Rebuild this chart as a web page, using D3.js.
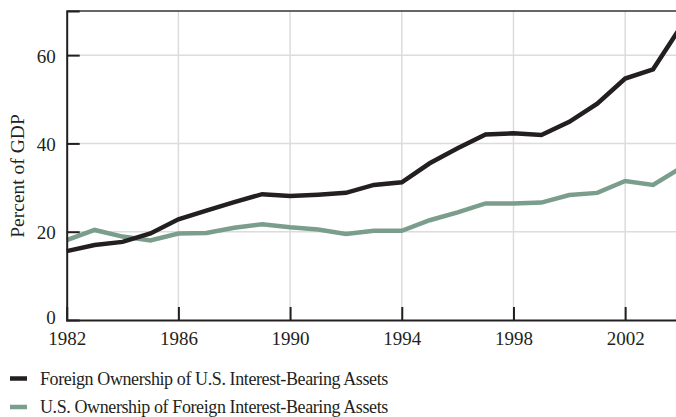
<!DOCTYPE html>
<html>
<head>
<meta charset="utf-8">
<script src="https://cdn.jsdelivr.net/npm/d3@7"></script>
<style>
  body { margin: 0; background: #fff; }
  svg text { font-family: "Liberation Serif", "DejaVu Serif", serif; fill: #231f20; }
</style>
</head>
<body>
<svg width="676" height="417"></svg>
<script>
const years = d3.range(1982, 2005);
const foreignOwnUS = [15.6, 17.0, 17.7, 19.6, 22.8, 24.8, 26.7, 28.5, 28.1, 28.4, 28.8,
  30.6, 31.2, 35.5, 38.9, 42.0, 42.3, 41.9, 44.9, 49.0, 54.7, 56.8, 66.5];
const usOwnForeign = [18.1, 20.4, 18.9, 18.0, 19.6, 19.7, 20.9, 21.7, 21.0, 20.5, 19.5,
  20.2, 20.2, 22.6, 24.4, 26.4, 26.4, 26.6, 28.3, 28.8, 31.5, 30.6, 34.5];
const xTickValues = [1982, 1986, 1990, 1994, 1998, 2002];
const yTickValues = [0, 20, 40, 60];
const seriesNames = ["Foreign Ownership of U.S. Interest-Bearing Assets",
  "U.S. Ownership of Foreign Interest-Bearing Assets"];
const seriesColors = ["#231f20", "#7b9e8c"];

function createViz() {
  const svg = d3.select("svg");
  const left = 66.7, right = 681, top = 11, bottom = 320;

  const xScale = d3.scaleLinear().domain([1982, 2004]).range([left, right]);
  const yScale = d3.scaleLinear().domain([0, 70]).range([bottom, top]);

  // grid
  svg.append("g")
    .selectAll("line")
    .data(xTickValues.slice(1))
    .enter()
    .append("line")
    .attr("x1", d => xScale(d)).attr("x2", d => xScale(d))
    .attr("y1", top).attr("y2", bottom)
    .attr("stroke", "#dcdcdc").attr("stroke-width", 1.5);
  svg.append("g")
    .selectAll("line")
    .data(yTickValues.slice(1))
    .enter()
    .append("line")
    .attr("x1", left).attr("x2", 676)
    .attr("y1", d => yScale(d)).attr("y2", d => yScale(d))
    .attr("stroke", "#dcdcdc").attr("stroke-width", 1.5);

  // top border
  svg.append("line")
    .attr("x1", left).attr("x2", 676)
    .attr("y1", top).attr("y2", top)
    .attr("stroke", "#333").attr("stroke-width", 1.5);

  // lines (green under black)
  const line = d3.line()
    .x((d, j) => xScale(years[j]))
    .y(d => yScale(d));
  [usOwnForeign, foreignOwnUS].forEach((vals, i) => {
    svg.append("path")
      .datum(vals)
      .attr("d", line)
      .attr("fill", "none")
      .attr("stroke", seriesColors[1 - i])
      .attr("stroke-width", 4.5);
  });

  // axes
  const yAxis = d3.axisLeft(yScale).tickValues(yTickValues).tickSize(-13).tickPadding(11);
  const yAxisG = svg.append("g")
    .attr("transform", `translate(${left}, 0)`)
    .call(yAxis);
  const xAxis = d3.axisBottom(xScale).tickValues(xTickValues).tickSize(-13).tickPadding(12)
    .tickFormat(d3.format("d"));
  const xAxisG = svg.append("g")
    .attr("transform", `translate(0, ${bottom})`)
    .call(xAxis);

  [yAxisG, xAxisG].forEach(g => {
    g.select(".domain").attr("stroke", "#231f20").attr("stroke-width", 2);
    g.selectAll(".tick line").attr("stroke", "#231f20").attr("stroke-width", 2);
    g.selectAll(".tick text")
      .attr("font-family", "Liberation Serif, serif")
      .attr("font-size", 19)
      .attr("fill", "#231f20");
  });
  xAxisG.selectAll(".tick").filter(d => d === 1982).select("line").remove();
  yAxisG.selectAll(".tick").filter(d => d === 0).select("line").remove();
  yAxisG.selectAll(".tick text").attr("dy", d => d === 0 ? "0.2em" : "0.38em");

  // y label
  svg.append("text")
    .attr("transform", `translate(24, 176) rotate(-90)`)
    .attr("text-anchor", "middle")
    .attr("font-size", 19.5)
    .text("Percent of GDP");

  // legend
  const legend = svg.append("g")
    .selectAll("g")
    .data(seriesNames)
    .enter()
    .append("g")
    .attr("transform", (d, i) => `translate(0, ${378.5 + i * 28.5})`);
  legend.append("line")
    .attr("x1", 10).attr("x2", 27)
    .attr("stroke", (d, i) => seriesColors[i])
    .attr("stroke-width", 4.5);
  legend.append("text")
    .attr("x", 40)
    .attr("dy", "0.35em")
    .attr("font-size", 18)
    .attr("letter-spacing", -0.4)
    .text(d => d);
}
createViz();
</script>
</body>
</html>
